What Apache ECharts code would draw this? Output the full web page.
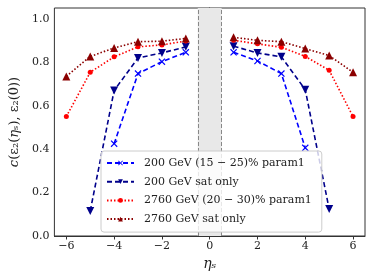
<!DOCTYPE html>
<html><head><meta charset="utf-8">
<script src="https://cdn.jsdelivr.net/npm/echarts@6/dist/echarts.min.js"></script>
<style>html,body{margin:0;padding:0;background:#fff}#c{width:374px;height:280px}</style>
</head><body><div id="c"></div>
<script>
var eta = [-6, -5, -4, -3, -2, -1, 1, 2, 3, 4, 5, 6];
var p200 = [null, null, 0.425, 0.748, 0.803, 0.846, 0.846, 0.806, 0.748, 0.406, null, null];
var sat200 = [null, 0.115, 0.67, 0.82, 0.843, 0.871, 0.874, 0.843, 0.825, 0.674, 0.124, null];
var p2760 = [0.55, 0.754, 0.825, 0.871, 0.88, 0.898, 0.901, 0.885, 0.869, 0.827, 0.763, 0.55];
var sat2760 = [0.735, 0.827, 0.866, 0.895, 0.897, 0.91, 0.915, 0.901, 0.895, 0.863, 0.831, 0.754];
var names = ['200 GeV (15 \u2212 25)% param1', '200 GeV sat only', '2760 GeV (20 \u2212 30)% param1', '2760 GeV sat only'];
var xTicks = [-6, -4, -2, 0, 2, 4, 6];
var yTicks = [0, 0.2, 0.4, 0.6, 0.8, 1.0];

var FONT = 'DejaVu Serif';
var xPath = 'path://M0,1.2L1.2,0L5,3.8L8.8,0L10,1.2L6.2,5L10,8.8L8.8,10L5,6.2L1.2,10L0,8.8L3.8,5Z';
var styles = [
  {color: '#0000ff', dash: [5, 3], symbol: xPath, size: 7},
  {color: '#00008b', dash: [5, 3], symbol: 'path://M0,0L10,0L5,9Z', size: 8},
  {color: '#ff0000', dash: [1.5, 2], symbol: 'circle', size: 5},
  {color: '#8b0000', dash: [1.5, 2], symbol: 'triangle', size: 8}
];
var sets = [p200, sat200, p2760, sat2760];
var series = [];
sets.forEach(function (vals, k) {
  [function (x) { return x < 0; }, function (x) { return x > 0; }].forEach(function (side) {
    var d = [];
    eta.forEach(function (x, i) { if (side(x) && vals[i] != null) d.push([x, vals[i]]); });
    var st = styles[k];
    series.push({
      type: 'line', name: names[k], data: d,
      symbol: st.symbol, symbolSize: st.size, showSymbol: true,
      lineStyle: {color: st.color, width: 1.6, type: st.dash},
      itemStyle: {color: st.color},
      z: 3 + k
    });
  });
});
series.push({
  type: 'line', data: [], silent: true, z: 1,
  markArea: {silent: true, itemStyle: {color: '#e8e8e8'}, data: [[{xAxis: -0.5}, {xAxis: 0.5}]]},
  markLine: {silent: true, symbol: 'none', label: {show: false},
    lineStyle: {color: '#888', type: [4, 2], width: 1}, data: [{xAxis: -0.5}, {xAxis: 0.5}]}
});

var chart = echarts.init(document.getElementById('c'));
chart.setOption({
  animation: false,
  grid: {left: 50, right: 9, top: 8, bottom: 44, show: true, borderColor: '#333', borderWidth: 1},
  xAxis: {
    type: 'value', min: -6.5, max: 6.5,
    name: '\u03b7\u209b', nameLocation: 'middle', nameGap: 19,
    nameTextStyle: {fontFamily: FONT, fontSize: 14, fontStyle: 'italic', color: '#222'},
    axisLine: {show: true, onZero: false, lineStyle: {color: '#333'}},
    axisTick: {show: true, length: 3.5, customValues: xTicks, lineStyle: {color: '#333'}},
    axisLabel: {customValues: xTicks, fontFamily: FONT, fontSize: 11, color: '#222', margin: 5,
      formatter: function (v) { return v < 0 ? '\u2212' + Math.abs(v) : String(v); }},
    splitLine: {show: false}
  },
  yAxis: {
    type: 'value', min: 0, max: 1.05,
    name: '{i|c}(\u03b5\u2082({i|\u03b7}\u209b), \u03b5\u2082(0))', nameLocation: 'middle', nameGap: 31,
    nameTextStyle: {fontFamily: FONT, fontSize: 13, color: '#222',
      rich: {i: {fontFamily: FONT, fontSize: 13, fontStyle: 'italic', color: '#222'}}},
    axisLine: {show: true, lineStyle: {color: '#333'}},
    axisTick: {show: true, length: 3.5, customValues: yTicks, lineStyle: {color: '#333'}},
    axisLabel: {customValues: yTicks, fontFamily: FONT, fontSize: 11, color: '#222', margin: 5,
      formatter: function (v) { return v.toFixed(1); }},
    splitLine: {show: false}
  },
  legend: {
    z: 20, zlevel: 0,
    data: names, orient: 'vertical', left: 101, top: 151,
    backgroundColor: 'rgba(255,255,255,0.8)', borderColor: '#ccc', borderWidth: 1, borderRadius: 3,
    padding: [5, 10, 6, 5], itemWidth: 27, itemHeight: 6, itemGap: 4.7,
    textStyle: {fontFamily: FONT, fontSize: 11, color: '#222', lineHeight: 14, padding: [0, 0, 0, 5]}
  },
  series: series
});
</script></body></html>
